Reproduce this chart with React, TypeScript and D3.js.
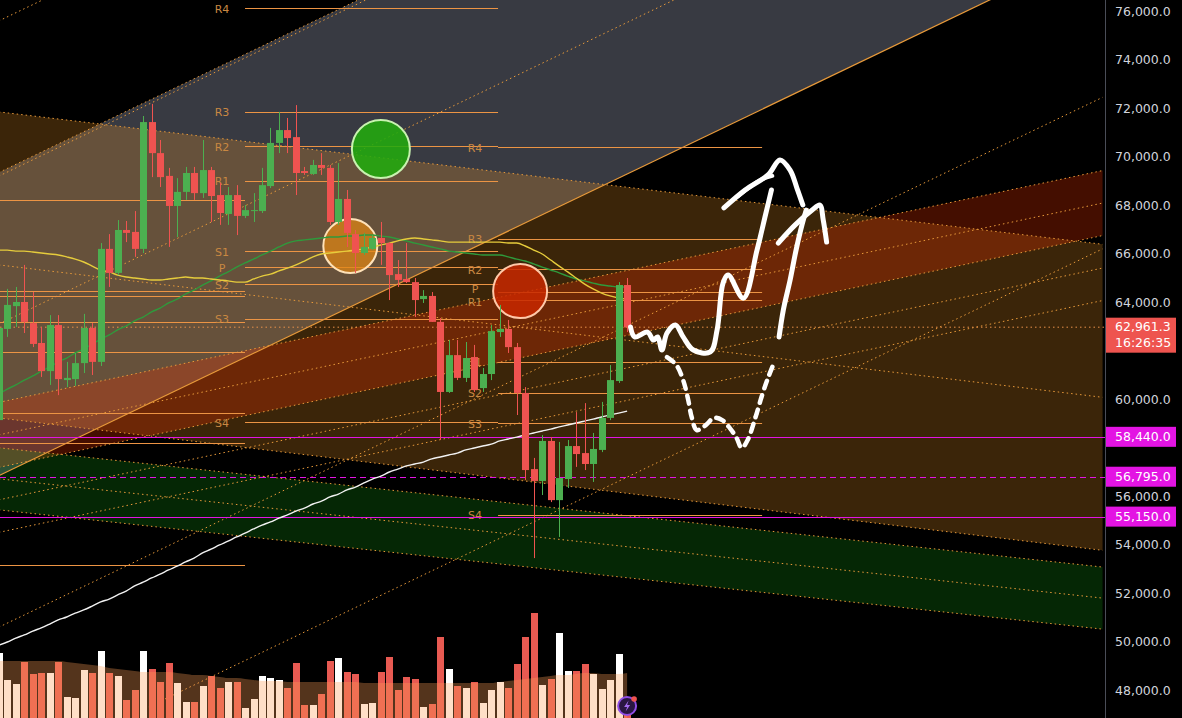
import React from 'react';
import * as d3 from 'd3';

const W = 1182;
const H = 718;
const PLOT_W = 1105;

// ---- OHLC (one entry per bar) ----
const opens = [59130,62890,63830,64000,63130,62310,61150,63050,60780,60820,61480,62930,61530,66190,65200,66970,66890,66190,71420,70140,69200,67960,68540,69320,68490,69440,68410,67630,68410,67550,67750,67750,68780,70560,71090,70800,69400,69280,69650,69530,67300,68250,66800,66020,66190,66640,66430,65150,64950,64820,64120,64250,63180,60290,61810,60870,61730,60450,61030,62760,62890,62140,60250,57110,56620,58270,55830,56700,58060,57770,57320,57900,59220,60740,64700];
const highs = [63050,64540,64620,65530,64410,62970,63460,63460,61530,61900,63510,63130,66430,66800,67380,67340,67750,71670,72170,70680,69530,69110,69570,69570,70680,69570,68910,68740,68820,68000,68490,69530,71180,71840,71590,72120,69570,69860,70140,69650,69730,68620,66970,66850,66760,67300,66470,65730,66430,64990,64490,64410,63340,62430,62430,62350,62230,61280,63050,63880,63260,62310,60490,57570,58510,58430,58230,58310,59460,59830,58600,59880,61400,64820,64990];
const lows = [58930,62560,62970,62720,62140,60910,60580,60160,60490,60540,61070,60990,61360,64620,65110,66470,65860,66020,69150,68740,66270,66680,68210,68210,68290,67300,67180,67180,66760,67460,67300,67670,68700,70140,70140,68410,69240,69240,69240,67180,67180,66270,65200,65940,66140,65530,64080,64620,64780,63380,63960,63180,58310,60250,60780,60700,60290,60290,60780,62560,61900,59340,56660,53440,56040,55750,54310,56330,57200,57070,56580,57810,59130,60660,62760];
const closes = [62930,63880,64000,63180,62270,61150,63050,60820,60870,61480,62930,61530,66190,65200,66970,66850,66190,71420,70140,69150,67960,68540,69320,68490,69440,68370,67670,68410,67550,67790,67790,68820,70560,71090,70760,69320,69320,69650,69530,67300,68250,66850,66020,66270,66640,66430,65110,64910,64820,64080,64250,63180,60290,61810,60870,61690,60370,61030,62800,62890,62140,60250,57070,56620,58270,55830,56740,58060,57730,57320,57940,59220,60780,64700,62961.3];
const volumes = [65,38,34,56,44,45,45,56,21,20,48,45,67,45,42,18,28,67,49,36,55,35,16,16,32,42,30,36,36,10,19,42,40,38,30,55,13,13,24,57,60,46,44,14,15,46,61,28,41,39,11,14,81,49,32,30,36,15,28,36,30,54,81,105,33,39,85,47,47,54,44,29,38,64,8];
const volumeMA = [57,57,57,57,57,57,57,57,56,55,54,53,52,50,49,48,47,46,46,46,46,45,44,43,43,42,41,40,40,39,38,37,37,37,36,36,36,36,36,36,36,36,36,35,35,35,35,35,35,35,35,35,35,35,35,35,35,35,35,36,37,38,39,40,41,42,43,43,44,45,45,44,44,44,45];

// ---- moving averages ----
const maYellow = [66140,66140,66100,66100,66060,66020,65980,65940,65860,65770,65650,65480,65320,65240,65110,65030,64990,64950,64910,64910,64950,64990,65030,64990,64990,64950,64910,64870,64820,64820,64950,65070,65150,65280,65400,65530,65690,65860,65980,66020,66060,66100,66140,66190,66270,66350,66430,66520,66600,66640,66600,66560,66520,66470,66470,66470,66470,66470,66470,66470,66430,66430,66310,66140,65980,65730,65480,65240,64990,64740,64540,64370,64250,64160,64120];
const maGreen = [60210,60410,60580,60780,60950,61150,61320,61530,61690,61900,62060,62270,62470,62640,62850,63010,63220,63380,63590,63750,63960,64120,64330,64490,64700,64870,65070,65240,65440,65610,65770,65940,66100,66270,66430,66520,66560,66600,66640,66680,66680,66720,66720,66760,66760,66720,66680,66600,66520,66430,66350,66270,66190,66100,66060,66020,65980,65940,65940,65940,65860,65770,65690,65570,65440,65320,65200,65070,64950,64870,64780,64700,64660,64620,64620];
const maWhite = [49850,49980,50140,50270,50430,50560,50720,50890,51010,51170,51300,51460,51630,51750,51920,52080,52290,52450,52620,52780,52950,53110,53280,53440,53650,53810,53980,54140,54310,54470,54640,54800,54930,55090,55220,55380,55500,55670,55790,55960,56080,56250,56370,56540,56700,56820,56990,57110,57240,57320,57400,57530,57610,57690,57770,57900,57980,58060,58140,58270,58350,58430,58520,58600,58680,58760,58850,58930,59010,59090,59170,59260,59340,59420,59500];

// ---- price axis ----
const priceTicks = d3.range(48000, 76001, 2000);
const lastPrice = 62961.3;
const countdown = '16:26:35';
const hLevels = [58440, 56795, 55150];
const hLevelDashed = [false, true, false];

// ---- pivot levels (three periods) ----
const pivotLabels = ['R4', 'R3', 'R2', 'R1', 'P', 'S1', 'S2', 'S3', 'S4'];
const pivotSet0 = [68210, 64450, 64250, 63180, 61940, 59420, 58190, 53150];
const pivotSet1 = [76120, 71840, 70430, 68990, 65440, 66100, 64740, 63300, 59050];
const pivotSet2 = [70390, 66600, 65360, 64080, 64410, 61530, 60250, 59010, 55220];
const pivotBounds = [-0.3, 29, 58.8, 89.9];

// ---- drawn channels: base line [barIndex, price] pairs and widths ----
const ascBase = [[0, 56840], [130, 78690]];
const ascWidth = 12500;
const ascLineOffsets = [18750, 12500, 12350, 6250, -6250, -12500];
const descBase = [[0, 59220], [130, 53760]];
const descWidth = 12620;
const redBase = [[0, 57180], [130, 66740]];
const redWidth = 2680;
const redLineOffsets = [-2680, -1340, 0, 1340, 2680];
const greenBase = [[0, 55430], [130, 50510]];
const greenWidth = 2560;

// ---- marked circles ----
const circleIdx = [45, 41.4, 61.4];
const circlePrice = [70310, 66310, 64450];

// ---- hand-drawn annotation strokes [barIndex, price] ----
const annoArrowA = [[74.4,62970],[74.9,62560],[76.4,62760],[77.1,62430],[77.6,62560],[78.1,62020],[78.7,62720],[79.7,63050],[80.6,62560],[81.8,62020],[83.8,61940],[84.6,62850],[85.3,64780],[85.9,65110],[87.7,64160],[89.3,66140],[90.3,67590],[91.0,68620]];
const annoHeadA = [[85.4,67880],[87.9,68620],[90.6,69240],[92.0,69860],[93.2,69440],[94.0,68700],[94.7,68000]];
const annoHeadA2 = [[87.1,68370],[89.7,69030],[91.1,69200]];
const annoArrowB = [[91.9,62560],[92.4,63670],[93.2,64910],[93.9,66140],[94.6,67180],[95.1,67790]];
const annoHeadB = [[91.8,66430],[93.8,67180],[95.8,67790],[96.7,68000],[97.1,67380],[97.5,66470]];
const annoDotted = [[78.7,61730],[79.8,61400],[80.6,60780],[81.2,59960],[81.6,59260],[82.2,58720],[83.3,58930],[84.2,59220],[85.2,59130],[86.1,58800],[86.9,58390],[87.5,57980],[88.2,58310],[89.1,59220],[89.9,60160],[90.6,60870],[91.2,61400]];

const UP = '#4caf50';
const DOWN = '#ef5350';
const ORANGE = '#e89a3a';
const PIVOT = '#ec9444';

export default function App() {
  const x = d3.scaleLinear().domain([0, 74]).range([-1.2, 627.1]);
  const y = d3.scaleLinear().domain([48000, 76000]).range([690, 11]);
  const vy = d3.scaleLinear().domain([0, 120]).range([718, 598]);

  const band = (base: number[][], o1: number, o2: number) => {
    const [[i1, p1], [i2, p2]] = base;
    return `M${x(i1)},${y(p1 + o1)}L${x(i2)},${y(p2 + o1)}L${x(i2)},${y(p2 + o2)}L${x(i1)},${y(p1 + o2)}Z`;
  };
  const chLine = (base: number[][], o: number) => {
    const [[i1, p1], [i2, p2]] = base;
    return `M${x(i1)},${y(p1 + o)}L${x(i2)},${y(p2 + o)}`;
  };

  const maLine = d3.line<number>().x((_, i) => x(i)).y((d) => y(d)).curve(d3.curveMonotoneX);
  const volArea = d3.area<number>().x((_, i) => x(i)).y0(vy(0)).y1((d) => vy(d)).curve(d3.curveMonotoneX);
  const anno = d3.line<number[]>().x((d) => x(d[0])).y((d) => y(d[1])).curve(d3.curveCatmullRom.alpha(0.5));
  const fmt = d3.format(',.1f');

  const pivotSets = [pivotSet0, pivotSet1, pivotSet2];

  // price-axis boxes (to keep tick labels from colliding with them)
  const boxes: [number, number][] = [
    [y(lastPrice) - 9.5, y(lastPrice) + 25.5],
    ...hLevels.map((p) => [y(p) - 10, y(p) + 10] as [number, number]),
  ];
  const visibleTicks = priceTicks.filter((t) => {
    const a = y(t) - 5, b = y(t) + 5;
    return !boxes.some(([b0, b1]) => b > b0 && a < b1);
  });

  // small label nudge so P / R1 of the last period do not sit on each other
  const labelDy = (s: number, k: number) => {
    if (s === 2 && pivotLabels[k] === 'P') return 1;
    if (s === 2 && pivotLabels[k] === 'R1') return 6;
    return 4.5;
  };

  const dotted = { stroke: ORANGE, strokeWidth: 1, strokeDasharray: '1.5 3', fill: 'none' };

  return (
    <svg width={W} height={H} style={{ position: 'absolute', left: 0, top: 0, display: 'block', background: '#000' }}
      fontFamily="'DejaVu Sans', sans-serif">
      <defs>
        <clipPath id="plotClip"><rect x={0} y={0} width={PLOT_W} height={H} /></clipPath>
      </defs>
      <rect x={0} y={0} width={W} height={H} fill="#000" />
      <g clipPath="url(#plotClip)">
        {/* channel fills */}
        <path d={band(ascBase, 0, ascWidth)} fill="#383a42" />
        <path d={band(descBase, 0, descWidth)} fill="rgba(255,160,40,0.23)" />
        <path d={band(redBase, 0, redWidth)} fill="rgba(225,45,0,0.3)" />
        <path d={band(greenBase, 0, greenWidth)} fill="rgba(20,150,20,0.26)" />

        {/* channel lines */}
        {ascLineOffsets.map((o, k) => <path key={'a' + k} d={chLine(ascBase, o)} {...dotted} />)}
        <path d={chLine(ascBase, 0)} stroke={ORANGE} strokeWidth={1.2} fill="none" />
        {[0, descWidth / 2, descWidth].map((o, k) => <path key={'d' + k} d={chLine(descBase, o)} {...dotted} />)}
        {redLineOffsets.map((o, k) => <path key={'r' + k} d={chLine(redBase, o)} {...dotted} />)}
        {[0, greenWidth / 2, greenWidth].map((o, k) => <path key={'g' + k} d={chLine(greenBase, o)} {...dotted} />)}

        {/* pivot levels */}
        {pivotSets.map((set, s) => (
          <g key={'ps' + s}>
            {set.map((p, k) => (
              <line key={k} x1={x(pivotBounds[s])} x2={x(pivotBounds[s + 1])} y1={Math.round(y(p)) + 0.5} y2={Math.round(y(p)) + 0.5}
                stroke={PIVOT} strokeWidth={1} />
            ))}
            {s > 0 && set.map((p, k) => (
              <text key={'t' + k} x={x(pivotBounds[s]) - 23} y={y(p) + labelDy(s, k)} fill="#c98842" fontSize={11} textAnchor="middle">
                {pivotLabels[k]}
              </text>
            ))}
          </g>
        ))}

        {/* horizontal alert levels */}
        {hLevels.map((p, k) => (
          <line key={'h' + k} x1={0} x2={PLOT_W} y1={Math.round(y(p)) + 0.5} y2={Math.round(y(p)) + 0.5}
            stroke="#e314e3" strokeWidth={1} strokeDasharray={hLevelDashed[k] ? '6 4' : undefined} />
        ))}

        {/* last price line */}
        <line x1={0} x2={PLOT_W} y1={y(lastPrice)} y2={y(lastPrice)} stroke="#e8904a" strokeWidth={1} strokeDasharray="1.5 3" />

        {/* circles */}
        <circle cx={x(circleIdx[0])} cy={y(circlePrice[0])} r={29} fill="rgba(34,170,14,0.88)" stroke="#c8f2b0" strokeWidth={2} />
        <circle cx={x(circleIdx[1])} cy={y(circlePrice[1])} r={27} fill="rgba(225,135,20,0.72)" stroke="#ffe2b8" strokeWidth={2} />
        <circle cx={x(circleIdx[2])} cy={y(circlePrice[2])} r={27} fill="rgba(200,40,0,0.85)" stroke="#ffc8a8" strokeWidth={2} />

        {/* moving averages */}
        <path d={maLine(maWhite) || ''} stroke="#f2f2f2" strokeWidth={1.4} fill="none" />
        <path d={maLine(maGreen) || ''} stroke="#2f9a3c" strokeWidth={1.4} fill="none" />
        <path d={maLine(maYellow) || ''} stroke="#e6cc3c" strokeWidth={1.4} fill="none" />

        {/* candles */}
        {opens.map((o, i) => {
          const c = closes[i];
          const up = c >= o;
          const col = up ? UP : DOWN;
          const cx = Math.round(x(i));
          const top = y(Math.max(o, c));
          const bot = y(Math.min(o, c));
          return (
            <g key={'c' + i}>
              <line x1={cx + 0.5} x2={cx + 0.5} y1={y(highs[i])} y2={y(lows[i])} stroke={col} strokeWidth={1} />
              <rect x={cx - 3} y={top} width={7} height={Math.max(1, bot - top)} fill={col} />
            </g>
          );
        })}

        {/* volume */}
        {volumes.map((v, i) => {
          const up = closes[i] >= opens[i];
          const cx = Math.round(x(i));
          return <rect key={'v' + i} x={cx - 3} y={vy(v)} width={7} height={vy(0) - vy(v)} fill={up ? '#ffffff' : '#e85a52'} />;
        })}
        <path d={volArea(volumeMA) || ''} fill="rgba(255,157,86,0.33)" />

        {/* hand drawn annotations */}
        <g stroke="#ffffff" fill="none" strokeLinecap="round" strokeLinejoin="round">
          <path d={anno(annoArrowA) || ''} strokeWidth={5} />
          <path d={anno(annoHeadA) || ''} strokeWidth={5} />
          <path d={anno(annoHeadA2) || ''} strokeWidth={4} />
          <path d={anno(annoArrowB) || ''} strokeWidth={5} />
          <path d={anno(annoHeadB) || ''} strokeWidth={5} />
          <path d={anno(annoDotted) || ''} strokeWidth={4.5} strokeDasharray="8 7" />
        </g>

        {/* small app icon */}
        <g transform={`translate(${x(74)},${vy(12)})`}>
          <circle r={9} fill="#2a1642" stroke="#8f4de6" strokeWidth={2} />
          <path d="M1.5,-5.5 L-3,1 L0,1 L-1.5,5.5 L3,-1 L0,-1 Z" fill="#a46cf0" />
          <circle cx={7} cy={-7} r={2.8} fill="#ef5350" />
        </g>
      </g>

      {/* price axis */}
      <rect x={PLOT_W} y={0} width={W - PLOT_W} height={H} fill="#000" />
      <line x1={PLOT_W + 0.5} x2={PLOT_W + 0.5} y1={0} y2={H} stroke="#4a4d57" strokeWidth={1} />
      {visibleTicks.map((t) => (
        <text key={'pt' + t} x={1115} y={y(t) + 4.5} fill="#d1d4dc" fontSize={12.5}>{fmt(t)}</text>
      ))}
      <rect x={1106} y={y(lastPrice) - 9.5} width={70} height={35} fill="#ee544f" />
      <text x={1115} y={y(lastPrice) + 4} fill="#ffffff" fontSize={12.5}>{fmt(lastPrice)}</text>
      <text x={1115} y={y(lastPrice) + 20} fill="#ffffff" fontSize={12.5}>{countdown}</text>
      {hLevels.map((p, k) => (
        <g key={'hl' + k}>
          <rect x={1106} y={y(p) - 10} width={70} height={20} fill="#e314e3" />
          <text x={1115} y={y(p) + 4.5} fill="#ffffff" fontSize={12.5}>{fmt(p)}</text>
        </g>
      ))}
    </svg>
  );
}
